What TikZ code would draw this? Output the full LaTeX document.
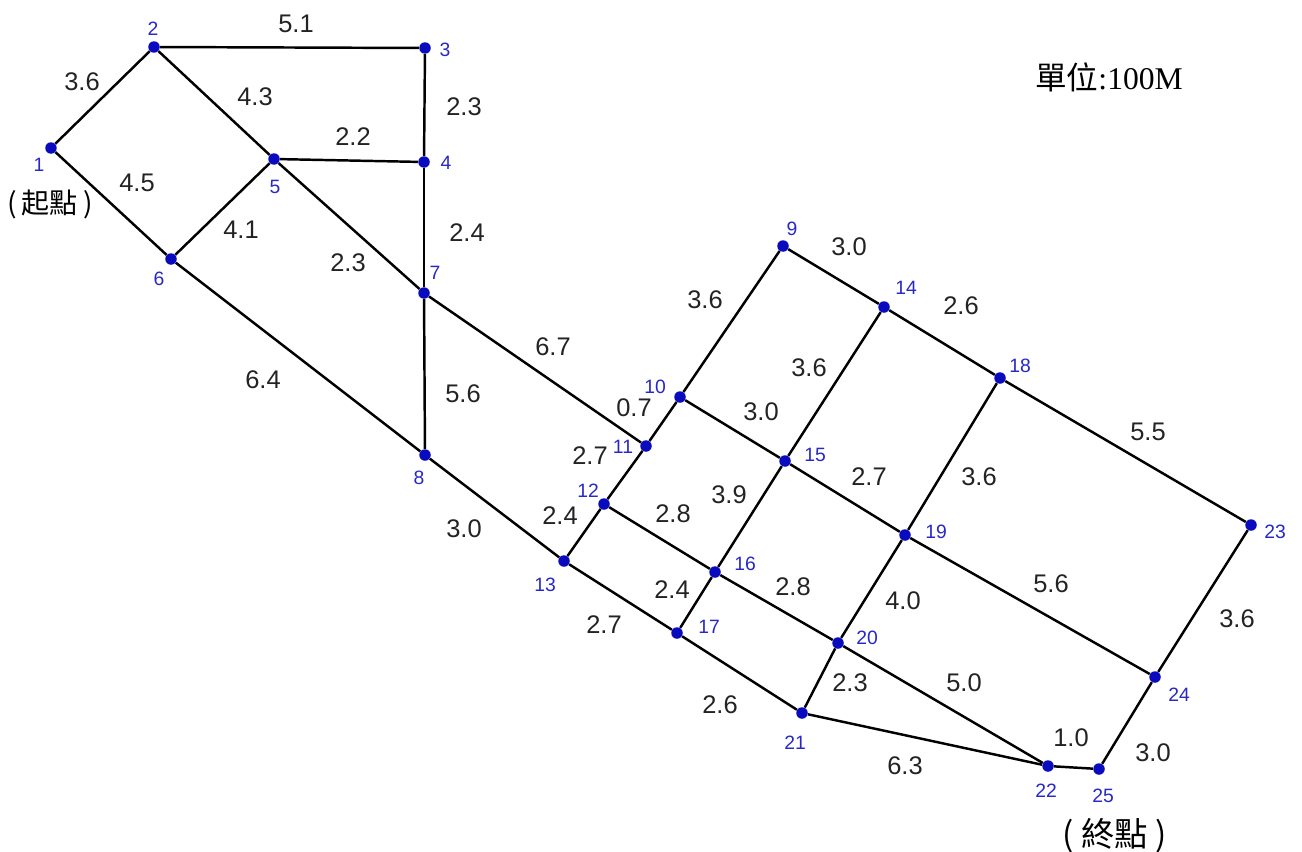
\documentclass[tikz,border=0pt]{standalone}
\usepackage{fontspec}
\setmainfont{Liberation Serif}
\setsansfont{Liberation Sans}
\newfontfamily\cjk{Noto Sans CJK TC}
\usetikzlibrary{positioning}
\definecolor{dotblue}{RGB}{10,10,190}
\definecolor{numblue}{RGB}{40,40,200}
\definecolor{wgray}{RGB}{35,35,35}
\tikzset{
  vtx/.style={circle,fill=dotblue,inner sep=0pt,minimum size=0.23cm},
  road/.style={line width=1.4pt,black},
  num/.style={font=\sffamily\fontsize{11}{11}\selectfont,text=numblue,inner sep=0pt},
  wlab/.style={font=\sffamily\fontsize{14.5}{14.5}\selectfont,text=wgray,inner sep=0pt},
  tag/.style={font=\cjk\fontsize{16}{16}\selectfont,inner sep=0pt}
}
\begin{document}
\begin{tikzpicture}[x=0.02cm,y=-0.02cm]
  \useasboundingbox (0,0) rectangle (1302,852);
  % vertices
  \node[vtx] (v1) at (51,148) {};   \node[vtx] (v2) at (154,47) {};   \node[vtx] (v3) at (425,48) {};
  \node[vtx] (v4) at (424,162) {};  \node[vtx] (v5) at (274,159) {};  \node[vtx] (v6) at (171,259) {};
  \node[vtx] (v7) at (424,293) {};  \node[vtx] (v8) at (425,455) {};  \node[vtx] (v9) at (783,246) {};
  \node[vtx] (v10) at (680,397) {}; \node[vtx] (v11) at (646,446) {}; \node[vtx] (v12) at (604,504) {};
  \node[vtx] (v13) at (564,561) {}; \node[vtx] (v14) at (884,307) {}; \node[vtx] (v15) at (785,461) {};
  \node[vtx] (v16) at (715,572) {}; \node[vtx] (v17) at (677,633) {}; \node[vtx] (v18) at (1000,378) {};
  \node[vtx] (v19) at (905,535) {}; \node[vtx] (v20) at (838,643) {}; \node[vtx] (v21) at (802,713) {};
  \node[vtx] (v22) at (1048,766) {};\node[vtx] (v23) at (1251,525) {};\node[vtx] (v24) at (1155,677) {};
  \node[vtx] (v25) at (1099,769) {};
  % roads
  \begin{scope}[on background layer/.try]
  \draw[road] (v1) -- (v2);   \draw[road] (v2) -- (v3);   \draw[road] (v2) -- (v5);   \draw[road] (v3) -- (v4);
  \draw[road] (v5) -- (v4);   \draw[road] (v1) -- (v6);   \draw[road] (v6) -- (v5);   \draw[road] (v5) -- (v7);
  \draw[road] (v4) -- (v7);   \draw[road] (v6) -- (v8);   \draw[road] (v7) -- (v8);   \draw[road] (v7) -- (v11);
  \draw[road] (v11) -- (v10); \draw[road] (v10) -- (v9);  \draw[road] (v9) -- (v14);  \draw[road] (v14) -- (v18);
  \draw[road] (v18) -- (v23); \draw[road] (v10) -- (v15); \draw[road] (v15) -- (v19); \draw[road] (v19) -- (v24);
  \draw[road] (v23) -- (v24); \draw[road] (v14) -- (v15); \draw[road] (v18) -- (v19); \draw[road] (v11) -- (v12);
  \draw[road] (v12) -- (v13); \draw[road] (v8) -- (v13);  \draw[road] (v12) -- (v16); \draw[road] (v16) -- (v20);
  \draw[road] (v20) -- (v22); \draw[road] (v15) -- (v16); \draw[road] (v19) -- (v20); \draw[road] (v13) -- (v17);
  \draw[road] (v16) -- (v17); \draw[road] (v17) -- (v21); \draw[road] (v20) -- (v21); \draw[road] (v21) -- (v22);
  \draw[road] (v22) -- (v25); \draw[road] (v25) -- (v24);
  \end{scope}
  % vertex numbers
  \node[num] (n1) at (39,165) {1};     \node[num] (n2) at (153,29) {2};     \node[num] (n3) at (445,50) {3};
  \node[num] (n4) at (446,163) {4};    \node[num] (n5) at (275,187) {5};    \node[num] (n6) at (159,279) {6};
  \node[num] (n7) at (435,273) {7};    \node[num] (n8) at (419,478) {8};    \node[num] (n9) at (792,229) {9};
  \node[num] (n10) at (655,387) {10};  \node[num] (n11) at (623,447) {11};  \node[num] (n12) at (588,491) {12};
  \node[num] (n13) at (545,585) {13};  \node[num] (n14) at (906,288) {14};  \node[num] (n15) at (815,455) {15};
  \node[num] (n16) at (745,564) {16};  \node[num] (n17) at (709,627) {17};  \node[num] (n18) at (1020,366) {18};
  \node[num] (n19) at (936,532) {19};  \node[num] (n20) at (867,638) {20};  \node[num] (n21) at (795,743) {21};
  \node[num] (n22) at (1046,791) {22}; \node[num] (n23) at (1275,532) {23}; \node[num] (n24) at (1179,695) {24};
  \node[num] (n25) at (1103,796) {25};
  % distances
  \node[wlab] (w1-2) at (82,82) {3.6};      \node[wlab] (w2-3) at (296,24) {5.1};
  \node[wlab] (w2-5) at (255,97) {4.3};     \node[wlab] (w3-4) at (464,107) {2.3};
  \node[wlab] (w5-4) at (353,137) {2.2};    \node[wlab] (w1-6) at (137,183) {4.5};
  \node[wlab] (w6-5) at (241,230) {4.1};    \node[wlab] (w4-7) at (467,233) {2.4};
  \node[wlab] (w5-7) at (348,263) {2.3};    \node[wlab] (w6-8) at (263,380) {6.4};
  \node[wlab] (w7-8) at (463,394) {5.6};    \node[wlab] (w7-11) at (553,347) {6.7};
  \node[wlab] (w9-10) at (705,300) {3.6};   \node[wlab] (w9-14) at (849,247) {3.0};
  \node[wlab] (w14-18) at (961,306) {2.6};  \node[wlab] (w14-15) at (809,368) {3.6};
  \node[wlab] (w10-11) at (634,408) {0.7};  \node[wlab] (w10-15) at (761,412) {3.0};
  \node[wlab] (w11-12) at (590,456) {2.7};  \node[wlab] (w15-16) at (729,495) {3.9};
  \node[wlab] (w15-19) at (869,477) {2.7};  \node[wlab] (w18-19) at (979,477) {3.6};
  \node[wlab] (w18-23) at (1148,432) {5.5}; \node[wlab] (w12-13) at (560,516) {2.4};
  \node[wlab] (w12-16) at (673,514) {2.8};  \node[wlab] (w8-13) at (464,529) {3.0};
  \node[wlab] (w16-17) at (672,590) {2.4};  \node[wlab] (w16-20) at (793,587) {2.8};
  \node[wlab] (w19-20) at (903,601) {4.0};  \node[wlab] (w19-24) at (1051,584) {5.6};
  \node[wlab] (w23-24) at (1237,619) {3.6}; \node[wlab] (w13-17) at (604,625) {2.7};
  \node[wlab] (w20-21) at (850,683) {2.3};  \node[wlab] (w20-22) at (964,683) {5.0};
  \node[wlab] (w17-21) at (720,705) {2.6};  \node[wlab] (w22-25) at (1071,738) {1.0};
  \node[wlab] (w24-25) at (1153,753) {3.0}; \node[wlab] (w21-22) at (905,766) {6.3};
  % start, end, unit
  \node[tag] (start) at (50,204) {(\hspace{0.1cm}起點\hspace{0.1cm})};
  \node[tag,font=\cjk\fontsize{19}{19}\selectfont] (finish) at (1115,836) {(\hspace{0.15cm}終點\hspace{0.15cm})};
  \node[font=\fontsize{18}{18}\selectfont,inner sep=0pt] (unit) at (1109,77) {{\cjk 單位}:100M};
\end{tikzpicture}
\end{document}
